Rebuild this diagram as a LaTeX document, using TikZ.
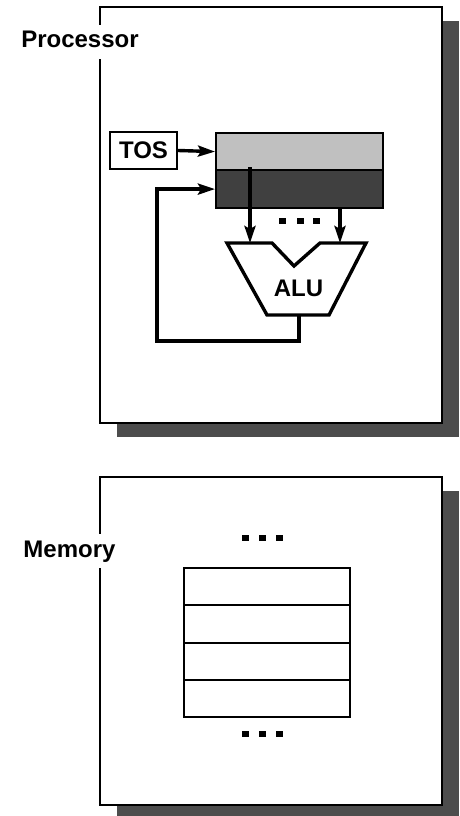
\documentclass[tikz,border=0pt]{standalone}
\usepackage{fontspec}
\setmainfont{Liberation Sans}
\usetikzlibrary{arrows.meta}
\definecolor{shadowgray}{HTML}{4D4D4D}
\definecolor{reglight}{HTML}{C0C0C0}
\definecolor{regdark}{HTML}{404040}
\tikzset{
  frame/.style={draw=black, fill=white, line width=2.2pt, inner sep=0pt, anchor=north west},
  shadowbox/.style={fill=shadowgray, draw=none, inner sep=0pt, anchor=north west},
  title/.style={fill=white, font=\fontsize{24}{28}\selectfont\bfseries, inner xsep=2pt, inner ysep=6pt, text height=17pt, text depth=5pt, anchor=base},
  lbl/.style={font=\fontsize{24}{28}\selectfont\bfseries, inner sep=0pt},
  reg/.style={draw=black, line width=2.2pt, inner sep=0pt, anchor=north west, minimum width=167pt},
  cell/.style={draw=black, fill=white, line width=2.2pt, inner sep=0pt, anchor=north west, minimum width=166pt, minimum height=37.25pt},
  arrowline/.style={draw=black, line width=3.4pt, -{Stealth[length=17pt,width=11pt,inset=3pt]}},
  wire/.style={draw=black, line width=3.4pt, line join=miter},
  dot/.style={fill=black, draw=none, minimum width=7pt, minimum height=6pt, inner sep=0pt},
}
\begin{document}
\begin{tikzpicture}[x=1pt,y=-1pt]
\useasboundingbox (0,0) rectangle (460,816);
% Processor
\node[shadowbox, minimum width=342pt, minimum height=416pt] (procshadow) at (117,21) {};
\node[frame, minimum width=342pt, minimum height=416pt] (proc) at (99,6) {};
\node[title] (proclbl) at (80,48) {Processor};
% Registers
\node[reg, fill=reglight, minimum height=37pt] (reg1) at (215,132) {};
\node[reg, fill=regdark, minimum height=38pt] (reg2) at (215,169) {};
\node[draw=black, line width=2.2pt, minimum width=67pt, minimum height=37pt, inner sep=0pt, lbl] (tos) at (143.5,150.5) {TOS};
\draw[arrowline] (tos.east) -- (reg1.west);
% ALU
\path[wire, fill=white] (227,243) -- (272,243) -- (294,266) -- (320,243) -- (366,243) -- (329,315) -- (267,315) -- cycle;
\node[lbl] (alu) at (298.5,288) {ALU};
\coordinate (aluin1) at (250,243);
\coordinate (aluin2) at (340,243);
\coordinate (aluout) at (299,315);
\coordinate (src1) at (250,167);
\coordinate (src2) at (340,207);
\draw[arrowline] (src1) -- (aluin1);
\draw[arrowline] (src2) -- (aluin2);
\coordinate (fbleft) at (157,341);
\draw[arrowline, line join=miter] (aluout) |- (fbleft) |- (reg2.west);
% dots
\node[dot] (d1) at (282,221) {};
\node[dot] (d2) at (300,221) {};
\node[dot] (d3) at (316,221) {};
% Memory
\node[shadowbox, minimum width=342pt, minimum height=328pt] (memshadow) at (117,491) {};
\node[frame, minimum width=342pt, minimum height=328pt] (mem) at (99,476) {};
\node[title] (memlbl) at (69.5,557) {Memory};
\node[cell] (c1) at (183,567) {};
\node[cell] (c2) at (183,604.25) {};
\node[cell] (c3) at (183,641.5) {};
\node[cell] (c4) at (183,678.75) {};
\node[dot] (m1) at (245,538) {};
\node[dot] (m2) at (262.5,538) {};
\node[dot] (m3) at (279,538) {};
\node[dot] (m4) at (245,734) {};
\node[dot] (m5) at (262.5,734) {};
\node[dot] (m6) at (279,734) {};
\end{tikzpicture}
\end{document}
